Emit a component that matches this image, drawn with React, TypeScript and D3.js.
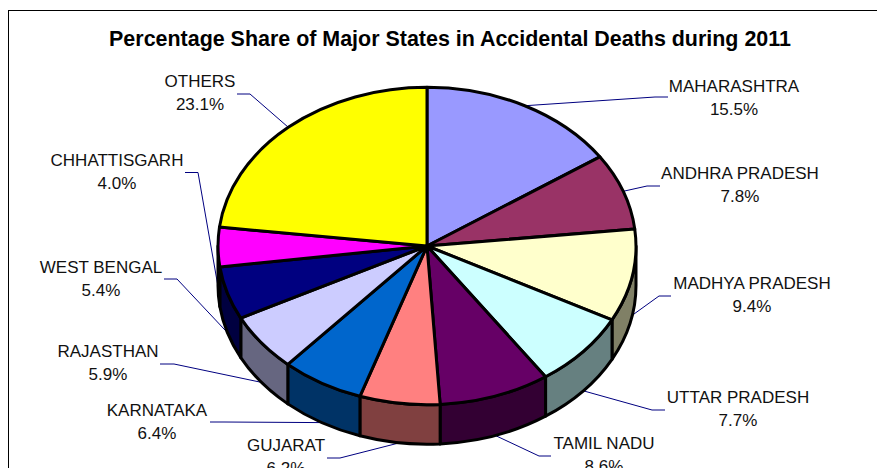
import React from 'react';
import * as d3 from 'd3';

const states = ['MAHARASHTRA', 'ANDHRA PRADESH', 'MADHYA PRADESH', 'UTTAR PRADESH', 'TAMIL NADU', 'GUJARAT', 'KARNATAKA', 'RAJASTHAN', 'WEST BENGAL', 'CHHATTISGARH', 'OTHERS'];
const shares = [15.5, 7.8, 9.4, 7.7, 8.6, 6.2, 6.4, 5.9, 5.4, 4.0, 23.1];
const topColors = ['#9999FF', '#993366', '#FFFFCC', '#CCFFFF', '#660066', '#FF8080', '#0066CC', '#CCCCFF', '#000080', '#FF00FF', '#FFFF00'];
const sideColors = ['#4D4D80', '#4D1A33', '#808066', '#668080', '#330033', '#804040', '#003366', '#666680', '#000040', '#800080', '#808000'];

// label placement, same order as states
const labelX = [734, 740, 752, 738, 604, 286, 157, 108, 101, 117, 200];
const labelY = [91.5, 179, 289, 403, 449, 451, 416, 357, 273, 166, 87];
const leaderEndX = [668, 660, 671, 665, 551, 327, 210, 160, 164, 185, 237];
const leaderElbowX = [655, 647, 659, 652, 539, 340, 224, 174, 177, 198, 250];
const leaderY = [97, 186, 296, 410, 456, 458, 422, 364, 279, 172.5, 94];

const cx = 427, cy = 246, rx = 209, ry = 158.7, depth = 39.5;
const PI = Math.PI;

const px = (a: number) => cx + rx * Math.sin(a);
const py = (a: number) => cy - ry * Math.cos(a);

function sidePath(a0: number, a1: number) {
    const from = Math.max(a0, PI / 2);
    const to = Math.min(a1, 3 * PI / 2);
    if (to <= from) return null;
    return `M${px(from)},${py(from)}`
        + `A${rx},${ry} 0 0 1 ${px(to)},${py(to)}`
        + `L${px(to)},${py(to) + depth}`
        + `A${rx},${ry} 0 0 0 ${px(from)},${py(from) + depth}Z`;
}

export default function App() {
    const slices = d3.pie<number>().sort(null).value(d => d)(shares);
    const arc = d3.arc<d3.PieArcDatum<number>>().innerRadius(0).outerRadius(1);
    const font = '"Liberation Sans", Arial, sans-serif';

    const leaders = slices.map((s, i) => {
        const mid = (s.startAngle + s.endAngle) / 2;
        const lower = mid > PI / 2 && mid < 3 * PI / 2;
        const ax = px(mid);
        const ay = py(mid) + (lower ? depth : 0);
        return d3.line()([[leaderEndX[i], leaderY[i]], [leaderElbowX[i], leaderY[i]], [ax, ay]]);
    });

    return (
        <svg width={877} height={468} style={{position: 'absolute', left: 0, top: 0, background: '#fff'}}>
            <rect x={8.5} y={10.5} width={920} height={520} fill="#fff" stroke="#000" strokeWidth={1} />
            <text x={450} y={46} textAnchor="middle" fontFamily={font} fontWeight="bold" fontSize={21.45} fill="#000">
                Percentage Share of Major States in Accidental Deaths during 2011
            </text>
            {leaders.map((d, i) => (
                <path key={i} d={d || ''} fill="none" stroke="#000080" strokeWidth={1} />
            ))}
            <g stroke="#000" strokeWidth={3} strokeLinejoin="round">
                {slices.map((s, i) => {
                    const d = sidePath(s.startAngle, s.endAngle);
                    return d ? <path key={i} d={d} fill={sideColors[i]} /> : null;
                })}
            </g>
            <g transform={`translate(${cx},${cy}) scale(${rx},${ry})`}>
                {slices.map((s, i) => (
                    <path key={i} d={arc(s) || ''} fill={topColors[i]} stroke="#000" strokeWidth={3}
                        strokeLinejoin="round" vectorEffect="non-scaling-stroke" />
                ))}
            </g>
            <g fontFamily={font} fontSize={17} fill="#111" textAnchor="middle">
                {states.map((name, i) => (
                    <text key={name} x={labelX[i]}>
                        <tspan x={labelX[i]} y={labelY[i]}>{name}</tspan>
                        <tspan x={labelX[i]} y={labelY[i] + 23}>{shares[i].toFixed(1)}%</tspan>
                    </text>
                ))}
            </g>
        </svg>
    );
}
